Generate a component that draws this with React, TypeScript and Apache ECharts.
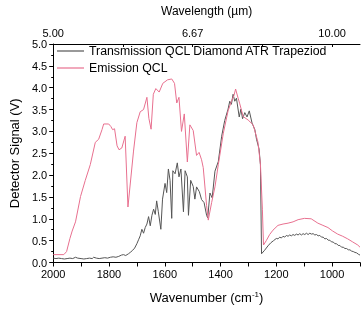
import React, { useEffect, useRef } from "react";
import * as echarts from "echarts";

// Wavenumber (cm-1) and detector signal (V) for each series
const transWn = [
  2000, 1990, 1980, 1970, 1960, 1950, 1940, 1930, 1920, 1912, 1900, 1890, 1880, 1870, 1860, 1855, 1845, 1835, 1825, 1815,
  1805, 1795, 1785, 1775, 1765, 1755, 1748, 1740, 1730, 1722, 1715, 1708, 1700, 1694, 1688, 1682, 1676, 1670, 1664, 1658,
  1652, 1646, 1640, 1634, 1629, 1623, 1614, 1608, 1599, 1593, 1587, 1581, 1575, 1571, 1563, 1555, 1549, 1542, 1533, 1527,
  1519, 1515, 1507, 1498, 1492, 1486, 1476, 1468, 1459, 1450, 1446, 1438, 1430, 1420, 1408, 1396, 1385, 1373, 1367, 1361,
  1355, 1349, 1343, 1333, 1327, 1321, 1313, 1305, 1297, 1287, 1277, 1271, 1262, 1257, 1253, 1242, 1230, 1220, 1210, 1200,
  1194, 1188, 1182, 1176, 1170, 1164, 1158, 1152, 1146, 1140, 1134, 1128, 1122, 1116, 1110, 1104, 1098, 1092, 1086, 1080,
  1074, 1068, 1062, 1056, 1050, 1044, 1038, 1032, 1026, 1020, 1014, 1008, 1002, 996, 990, 984, 978, 972, 966, 960,
  954, 948, 942, 936, 930, 924, 918, 912, 906, 900,
];
const transSignal = [
  0.10, 0.09, 0.10, 0.09, 0.08, 0.09, 0.10, 0.09, 0.12, 0.10, 0.09, 0.08, 0.09, 0.10, 0.09, 0.12, 0.10, 0.09, 0.10, 0.11,
  0.10, 0.12, 0.13, 0.12, 0.14, 0.17, 0.18, 0.16, 0.20, 0.24, 0.28, 0.33, 0.43, 0.52, 0.61, 0.76, 0.67, 0.80, 0.88, 1.05,
  0.84, 1.08, 1.22, 1.10, 1.41, 1.16, 0.76, 1.45, 1.81, 1.60, 2.14, 1.88, 1.01, 2.10, 2.03, 2.28, 1.96, 2.14, 1.16, 2.10,
  1.96, 1.08, 1.88, 1.74, 1.45, 1.73, 1.62, 1.44, 1.37, 1.08, 1.02, 1.59, 1.48, 2.09, 2.31, 2.89, 3.25, 3.51, 3.69, 3.62,
  3.85, 3.69, 3.76, 3.33, 3.51, 3.29, 3.43, 3.33, 3.47, 3.19, 3.04, 2.82, 2.60, 2.24, 0.20, 0.28, 0.38, 0.45, 0.50, 0.55,
  0.54, 0.58, 0.56, 0.60, 0.58, 0.62, 0.60, 0.63, 0.61, 0.64, 0.62, 0.65, 0.63, 0.66, 0.63, 0.66, 0.64, 0.67, 0.64, 0.67,
  0.65, 0.66, 0.63, 0.64, 0.61, 0.62, 0.58, 0.58, 0.54, 0.55, 0.51, 0.51, 0.47, 0.47, 0.43, 0.43, 0.39, 0.39, 0.35, 0.35,
  0.32, 0.32, 0.29, 0.29, 0.26, 0.25, 0.23, 0.22, 0.19, 0.17,
];

const emisWn = [
  2000, 1962, 1952, 1940, 1932, 1920, 1902, 1885, 1867, 1849, 1837, 1825, 1819, 1801, 1793, 1787, 1780, 1771, 1764, 1754,
  1742, 1732, 1712, 1700, 1688, 1676, 1664, 1657, 1649, 1641, 1632, 1620, 1607, 1590, 1575, 1565, 1557, 1549, 1540, 1530,
  1519, 1510, 1498, 1486, 1477, 1468, 1462, 1450, 1444, 1432, 1420, 1408, 1390, 1373, 1361, 1352, 1346, 1337, 1331, 1319,
  1301, 1283, 1266, 1257, 1250, 1246, 1236, 1224, 1212, 1194, 1176, 1158, 1140, 1122, 1099, 1075, 1051, 1033, 1015, 998,
  980, 962, 944, 926, 908, 900,
];
const emisSignal = [
  0.18, 0.18, 0.25, 0.55, 0.72, 0.93, 1.51, 1.88, 2.24, 2.75, 2.82, 3.04, 3.17, 3.17, 3.11, 3.04, 3.06, 2.67, 2.58, 2.62,
  2.89, 1.27, 2.55, 3.20, 3.45, 3.50, 3.78, 3.30, 3.05, 3.85, 3.98, 3.90, 4.10, 4.18, 4.20, 4.10, 3.65, 3.78, 3.00, 3.40,
  2.30, 3.15, 3.02, 2.45, 2.52, 2.35, 2.17, 1.30, 0.97, 1.37, 1.73, 2.24, 2.96, 3.47, 3.69, 3.82, 3.97, 3.76, 3.63, 3.34,
  3.26, 3.15, 2.76, 2.25, 1.22, 0.40, 0.50, 0.64, 0.74, 0.85, 0.88, 0.90, 0.93, 0.98, 1.01, 1.00, 0.90, 0.85, 0.80, 0.72,
  0.65, 0.60, 0.54, 0.47, 0.40, 0.35,
];

const seriesNames = ["Transmission QCL Diamond ATR Trapeziod", "Emission QCL"];
const wavelengthTicks = [1000, 1250, 1500, 1750, 2000];
const wavelengthLabels = [1000, 1500, 2000];

const FONT = "Liberation Sans, Arial, sans-serif";
const GRAY = "#555555";
const PINK = "#e8708f";

export default function App() {
  const ref = useRef<HTMLDivElement>(null);
  useEffect(() => {
    const chart = echarts.init(ref.current!, null, { renderer: "svg" });
    const trans = transWn.map((w, i) => [w, transSignal[i]]);
    const emis = emisWn.map((w, i) => [w, emisSignal[i]]);
    chart.setOption({
      animation: false,
      textStyle: { fontFamily: FONT },
      grid: { left: 51, right: 3, top: 37, bottom: 42.5 },
      legend: {
        orient: "vertical",
        left: 52,
        top: 40,
        itemGap: 5,
        itemWidth: 27,
        itemHeight: 1.2,
        icon: "rect",
        textStyle: { fontSize: 12.3, color: "#000", fontFamily: FONT },
        data: seriesNames,
      },
      xAxis: [
        {
          type: "value",
          position: "bottom",
          min: 900,
          max: 2000,
          interval: 100,
          inverse: true,
          name: "Wavenumber (cm{sup|-1})",
          nameLocation: "middle",
          nameGap: 28,
          nameTextStyle: {
            fontSize: 13,
            color: "#000",
            fontFamily: FONT,
            rich: { sup: { fontSize: 8, verticalAlign: "top", padding: [0, 0, 6, 0], color: "#000" } },
          },
          axisLine: { show: true, onZero: false, lineStyle: { color: "#000", width: 1 } },
          axisTick: { show: true, inside: false, length: 4, lineStyle: { color: "#000" } },
          axisLabel: {
            fontSize: 11,
            color: "#000",
            margin: 6,
            fontFamily: FONT,
            formatter: (v: number) => (v >= 1000 && v % 200 === 0 ? String(v) : ""),
          },
          splitLine: { show: false },
        },
        {
          type: "value",
          position: "top",
          min: 900,
          max: 2000,
          inverse: true,
          name: "Wavelength (µm)",
          nameLocation: "middle",
          nameGap: 27,
          nameTextStyle: { fontSize: 12, color: "#000", fontFamily: FONT },
          axisLine: { show: true, onZero: false, lineStyle: { color: "#000", width: 1 } },
          axisTick: { show: true, inside: true, length: 3, customValues: wavelengthTicks, lineStyle: { color: "#000" } },
          axisLabel: {
            fontSize: 11,
            color: "#000",
            margin: 6,
            fontFamily: FONT,
            customValues: wavelengthLabels,
            formatter: (v: number) => (10000 / v).toFixed(2),
          },
          splitLine: { show: false },
        },
      ],
      yAxis: {
        type: "value",
        min: 0,
        max: 5,
        interval: 0.5,
        name: "Detector Signal (V)",
        nameLocation: "middle",
        nameGap: 31,
        nameTextStyle: { fontSize: 13, color: "#000", fontFamily: FONT },
        axisLine: { show: true, lineStyle: { color: "#000", width: 1 } },
        axisTick: { show: true, inside: false, length: 4, lineStyle: { color: "#000" } },
        minorTick: { show: true, splitNumber: 2, length: 2, lineStyle: { color: "#000" } },
        axisLabel: {
          fontSize: 11,
          color: "#000",
          margin: 6,
          fontFamily: FONT,
          formatter: (v: number) => v.toFixed(1),
        },
        splitLine: { show: false },
      },
      series: [
        {
          name: seriesNames[0],
          type: "line",
          xAxisIndex: 0,
          data: trans,
          symbol: "none",
          lineStyle: { color: GRAY, width: 1 },
          itemStyle: { color: GRAY },
        },
        {
          name: seriesNames[1],
          type: "line",
          xAxisIndex: 0,
          data: emis,
          symbol: "none",
          lineStyle: { color: PINK, width: 1 },
          itemStyle: { color: PINK },
        },
      ],
    });
    return () => chart.dispose();
  }, []);
  return <div ref={ref} style={{ position: "fixed", left: 0, top: 0, width: 363, height: 309 }} />;
}
